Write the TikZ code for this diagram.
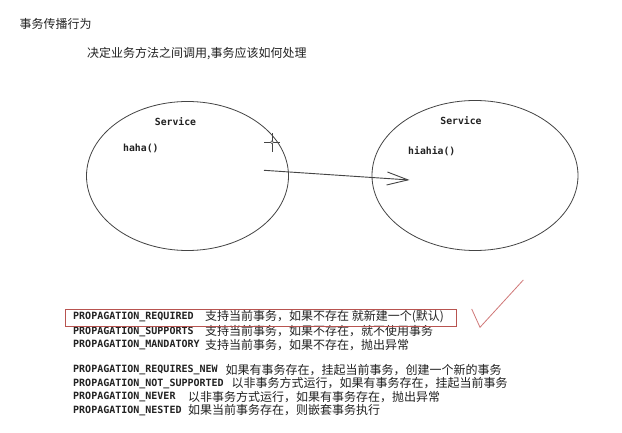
\documentclass[tikz,border=0pt]{standalone}
\usepackage{fontspec}
\usetikzlibrary{shapes.geometric,arrows.meta}
\newfontfamily\cjk{Noto Sans CJK SC}
\newfontfamily\monof{DejaVu Sans Mono}
\definecolor{ink}{HTML}{222222}
\definecolor{edge}{HTML}{444444}
\definecolor{boxred}{HTML}{B85450}
\definecolor{tick}{HTML}{D07878}
\tikzset{
  svc/.style={ellipse, draw=edge, line width=0.8pt, inner sep=0pt},
  code/.style={anchor=west, inner sep=0pt, text=ink, font=\monof\bfseries\fontsize{10}{12}\selectfont},
  small/.style={inner sep=0pt, text=ink, font=\monof\bfseries\fontsize{9.8}{12}\selectfont},
  zh/.style={anchor=west, inner sep=0pt, text=ink, font=\cjk\fontsize{12}{14}\selectfont},
  callarrow/.style={draw=edge, line width=0.9pt, -{Straight Barb[length=21pt,width=13pt,line width=0.9pt]}},
}
\begin{document}
\begin{tikzpicture}[x=1pt,y=-1pt]
\useasboundingbox[fill=white] (0,0) rectangle (622,433);
% headings
\node[zh] (title) at (19.5,24) {事务传播行为};
\node[zh] (sub) at (87,53.5) {决定业务方法之间调用,事务应该如何处理};
% services
\node[svc, minimum width=202pt, minimum height=149pt] (L) at (187.5,176) {};
\node[svc, minimum width=206pt, minimum height=150pt] (R) at (475,175.5) {};
\node[small] (ls) at (175.5,122) {Service};
\node[small, anchor=west] (lm) at (123,148) {haha()};
\node[small] (rs) at (461,121) {Service};
\node[small, anchor=west] (rm) at (408,151) {hiahia()};
% call arrow
\coordinate (a0) at (264,170.3);
\coordinate (a1) at (409.5,180);
\draw[callarrow] (a0) -- (a1);
% cursor
\coordinate (cur) at (272,142.3);
\draw[edge, line width=0.7pt] ([yshift=-9.5pt]cur) -- ([yshift=9.5pt]cur);
\draw[edge, line width=0.7pt] ([xshift=-8pt]cur) -- ([xshift=8pt]cur);
\node[circle, draw=edge, fill=white, line width=0.5pt, minimum size=3pt, inner sep=0pt] (curdot) at (cur) {};
% propagation list
\node[code] (p1) at (73,317) {PROPAGATION\_REQUIRED};
\node[zh] (d1) at (205,317) {支持当前事务，如果不存在 就新建一个(默认)};
\node[code] (p2) at (73,331.5) {PROPAGATION\_SUPPORTS};
\node[zh] (d2) at (205,331.5) {支持当前事务，如果不存在，就不使用事务};
\node[code] (p3) at (73,345) {PROPAGATION\_MANDATORY};
\node[zh] (d3) at (205,345) {支持当前事务，如果不存在，抛出异常};
\node[code] (p4) at (73,370) {PROPAGATION\_REQUIRES\_NEW};
\node[zh] (d4) at (225.5,370) {如果有事务存在，挂起当前事务，创建一个新的事务};
\node[code] (p5) at (73,383.5) {PROPAGATION\_NOT\_SUPPORTED};
\node[zh] (d5) at (231.5,383.5) {以非事务方式运行，如果有事务存在，挂起当前事务};
\node[code] (p6) at (73,397) {PROPAGATION\_NEVER};
\node[zh] (d6) at (188,397) {以非事务方式运行，如果有事务存在，抛出异常};
\node[code] (p7) at (73,410.5) {PROPAGATION\_NESTED};
\node[zh] (d7) at (188,410.5) {如果当前事务存在，则嵌套事务执行};
% highlight box and tick
\draw[boxred, line width=0.9pt] (65,309.3) rectangle (456.7,326);
\draw[tick, line width=0.8pt] (471.7,309) -- (480,327.3) -- (523.3,280);
\end{tikzpicture}
\end{document}
